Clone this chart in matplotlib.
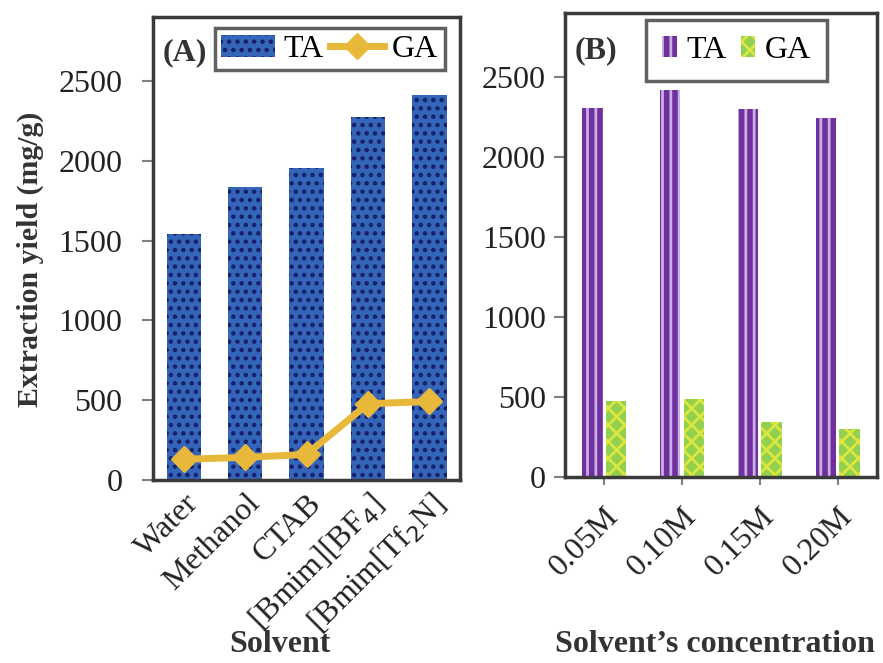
import numpy as np
import matplotlib
matplotlib.use("Agg")
import matplotlib.pyplot as plt
from matplotlib.lines import Line2D
from matplotlib.patches import Patch

plt.rcParams['font.family'] = ['Liberation Serif', 'DejaVu Serif']
plt.rcParams['hatch.linewidth'] = 2.0

# --- data ---
solvents = ['Water', 'Methanol', 'CTAB', r'[Bmim][BF$_4$]', r'[Bmim[Tf$_2$N]']
ta_solvent = [1540, 1835, 1955, 2275, 2415]
ga_solvent = [130, 142, 160, 478, 492]

conc = ['0.05M', '0.10M', '0.15M', '0.20M']
ta_conc = [2305, 2420, 2300, 2245]
ga_conc = [478, 490, 345, 300]

SPINE = '#3a3a3a'
TICK = '#808080'
TXT = '#333333'

fig = plt.figure(figsize=(8.83, 6.63), dpi=100)
ax1 = fig.add_axes([0.1733, 0.276, 0.3477, 0.698])
ax2 = fig.add_axes([0.640, 0.2805, 0.353, 0.6995])


def style(ax):
    for s in ax.spines.values():
        s.set_color(SPINE)
        s.set_linewidth(2.5)
    ax.tick_params(axis='y', length=8, width=1.5, color=TICK, labelsize=23,
                   labelcolor='#222222', pad=6)
    ax.tick_params(axis='x', length=6, width=1.5, color=TICK, labelsize=23,
                   labelcolor='#222222', pad=4)
    ax.set_ylim(0, 2900)
    ax.set_yticks([0, 500, 1000, 1500, 2000, 2500])


# --- panel A ---
x1 = np.arange(len(solvents))
ax1.bar(x1, ta_solvent, width=0.56, color='#3565b8', edgecolor='#16206a',
        linewidth=0, hatch='..', zorder=2)
ax1.plot(x1, ga_solvent, color='#e8b83a', lw=5, marker='D', ms=13,
         mec='#e8b83a', zorder=3)
ax1.set_xlim(-0.5, len(solvents) - 0.5)
ax1.set_xticks(x1)
ax1.set_xticklabels(solvents, rotation=45, ha='right', rotation_mode='anchor')
style(ax1)
ax1.tick_params(axis='y', pad=14)
ax1.tick_params(axis='x', length=0, pad=6)
ax1.set_ylabel('Extraction yield (mg/g)', fontsize=21.5, fontweight='bold',
               color=TXT)
ax1.yaxis.set_label_coords(-0.355, 0.477)
ax1.text(0.03, 0.924, '(A)', transform=ax1.transAxes, fontsize=23,
         fontweight='bold', color=TXT, va='center')
h_ta = Patch(facecolor='#3565b8', edgecolor='#16206a', linewidth=0, hatch='..')
h_ga = Line2D([], [], color='#e8b83a', lw=5, marker='D', ms=13)
leg1 = ax1.legend([h_ta, h_ga], ['TA', 'GA'], ncol=2, loc='upper left',
                  bbox_to_anchor=(0.18, 0.99), fontsize=23, frameon=True,
                  fancybox=False, edgecolor=SPINE, handlelength=1.7,
                  handletextpad=0.25, columnspacing=0.2, borderpad=0.2,
                  borderaxespad=0.2)
leg1.get_frame().set_linewidth(2.5)

# --- panel B ---
x2 = np.arange(len(conc))
w = 0.26
ax2.bar(x2 - w / 2 - 0.02, ta_conc, width=w, color='#7030a0', edgecolor='#c8b0e0',
        linewidth=0, hatch='||', zorder=2)
ax2.bar(x2 + w / 2 + 0.02, ga_conc, width=w, color='#92d050', edgecolor='#dce640',
        linewidth=0, hatch='xx', zorder=2)
ax2.set_xlim(-0.5, len(conc) - 0.5)
ax2.set_xticks(x2)
ax2.set_xticklabels(conc, rotation=45, ha='right', rotation_mode='anchor')
style(ax2)
ax2.tick_params(axis='x', pad=12)
ax2.text(0.03, 0.92, '(B)', transform=ax2.transAxes, fontsize=23,
         fontweight='bold', color=TXT, va='center')
h1 = Patch(facecolor='#7030a0', edgecolor='#c8b0e0', linewidth=0, hatch='||')
h2 = Patch(facecolor='#92d050', edgecolor='#dce640', linewidth=0, hatch='xx')
leg2 = ax2.legend([h1, h2], ['TA', 'GA'], ncol=2, loc='upper left',
                  bbox_to_anchor=(0.24, 1.0), fontsize=23, frameon=True,
                  fancybox=False, edgecolor=SPINE, handlelength=0.45,
                  handleheight=0.6, handletextpad=0.3, columnspacing=0.45,
                  borderpad=0.5, borderaxespad=0.2)
leg2.get_frame().set_linewidth(2.5)

fig.text(280 / 883, 1 - 645 / 663, 'Solvent', fontsize=23, fontweight='bold',
         color=TXT, ha='center', va='center')
fig.text(715 / 883, 1 - 645 / 663, "Solvent\u2019s concentration", fontsize=23,
         fontweight='bold', color=TXT, ha='center', va='center')

fig.savefig('out.png', dpi=100)
